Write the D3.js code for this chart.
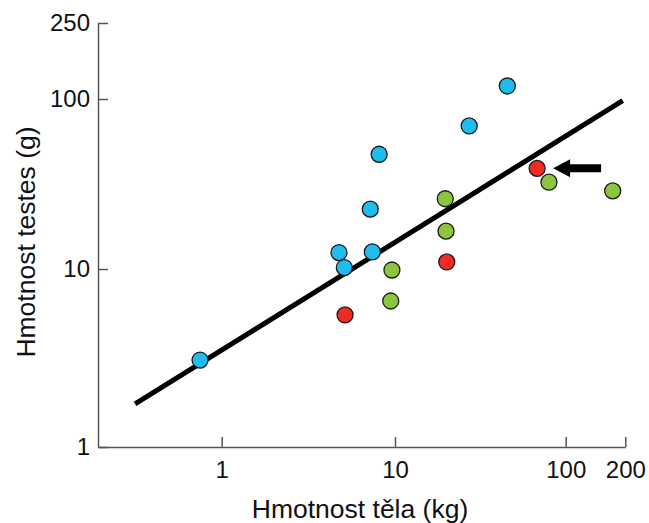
<!DOCTYPE html>
<html>
<head>
<meta charset="utf-8">
<script src="https://cdn.jsdelivr.net/npm/d3@7"></script>
<style>
  body { margin: 0; background: #fff; }
  svg { display: block; font-family: "Liberation Sans", Arial, sans-serif; }
  .axis path, .axis line { stroke: #555; stroke-width: 1.5; }
  .axis text { font-size: 24px; fill: #111; }
</style>
</head>
<body>
<svg width="649" height="523"></svg>
<script>
// body mass (kg) and testes mass (g)
const blueX = [0.75, 4.75, 5.1, 7.4, 7.2, 8.1, 27.2, 45.5];
const blueY = [3.08, 12.5, 10.2, 12.6, 22.5, 47.3, 69.4, 117];
const greenX = [9.6, 9.45, 19.9, 19.7, 79.8, 172.7];
const greenY = [9.87, 6.61, 16.7, 25.9, 32.4, 28.8];
const redX = [5.15, 20.1, 68];
const redY = [5.52, 11.0, 39.1];
const fitX = [0.316, 194];
const fitY = [1.745, 97.7];

const xTicks = [1, 10, 100, 200];
const yTicks = [1, 10, 100, 250];

const blueColor = "#1fbcee";
const greenColor = "#8cc63f";
const redColor = "#ee2b24";

let svg = d3.select("svg");

// the printed axes are not quite even per decade, so piecewise log scales
let x = d3.scaleLog()
    .domain([0.193, 1, 10, 100, 200])
    .range([98, 221.7, 395, 565.7, 625.3]);
let y = d3.scaleLog()
    .domain([1, 10, 100, 250])
    .range([447, 269, 99, 23]);

// x axis
svg.append("g")
    .attr("class", "axis")
    .attr("transform", "translate(0," + y(1) + ")")
    .call(d3.axisBottom(x)
        .tickValues(xTicks)
        .tickFormat(d3.format("d"))
        .tickSizeInner(-10)
        .tickSizeOuter(0)
        .tickPadding(14));

// y axis
svg.append("g")
    .attr("class", "axis")
    .attr("transform", "translate(" + x(0.193) + ",0)")
    .call(d3.axisLeft(y)
        .tickValues(yTicks)
        .tickFormat(d3.format("d"))
        .tickSizeInner(-10)
        .tickSizeOuter(0)
        .tickPadding(8));

// regression line
svg.append("line")
    .attr("x1", x(fitX[0]))
    .attr("y1", y(fitY[0]))
    .attr("x2", x(fitX[1]))
    .attr("y2", y(fitY[1]))
    .attr("stroke", "#000")
    .attr("stroke-width", 5);

function drawPoints(xs, ys, color) {
    svg.selectAll(null)
        .data(d3.zip(xs, ys))
        .enter().append("circle")
        .attr("cx", d => x(d[0]))
        .attr("cy", d => y(d[1]))
        .attr("r", 8)
        .attr("fill", color)
        .attr("stroke", "#1a1a1a")
        .attr("stroke-width", 1.3);
}

drawPoints(blueX, blueY, blueColor);
drawPoints(greenX, greenY, greenColor);
drawPoints(redX, redY, redColor);

// arrow pointing at the last red point
let ax = x(redX[2]) + 16;
let ay = y(redY[2]);
svg.append("path")
    .attr("d", "M" + ax + "," + ay +
        " L" + (ax + 17) + "," + (ay - 9) +
        " L" + (ax + 17) + "," + (ay - 4) +
        " L" + (ax + 48) + "," + (ay - 4) +
        " L" + (ax + 48) + "," + (ay + 4) +
        " L" + (ax + 17) + "," + (ay + 4) +
        " L" + (ax + 17) + "," + (ay + 9) + " Z")
    .attr("fill", "#000");

// axis titles
svg.append("text")
    .attr("x", 360)
    .attr("y", 518)
    .attr("text-anchor", "middle")
    .attr("font-size", "26.5px")
    .attr("fill", "#111")
    .text("Hmotnost těla (kg)");

svg.append("text")
    .attr("transform", "translate(35,242) rotate(-90)")
    .attr("text-anchor", "middle")
    .attr("font-size", "26.5px")
    .attr("fill", "#111")
    .text("Hmotnost testes (g)");
</script>
</body>
</html>
